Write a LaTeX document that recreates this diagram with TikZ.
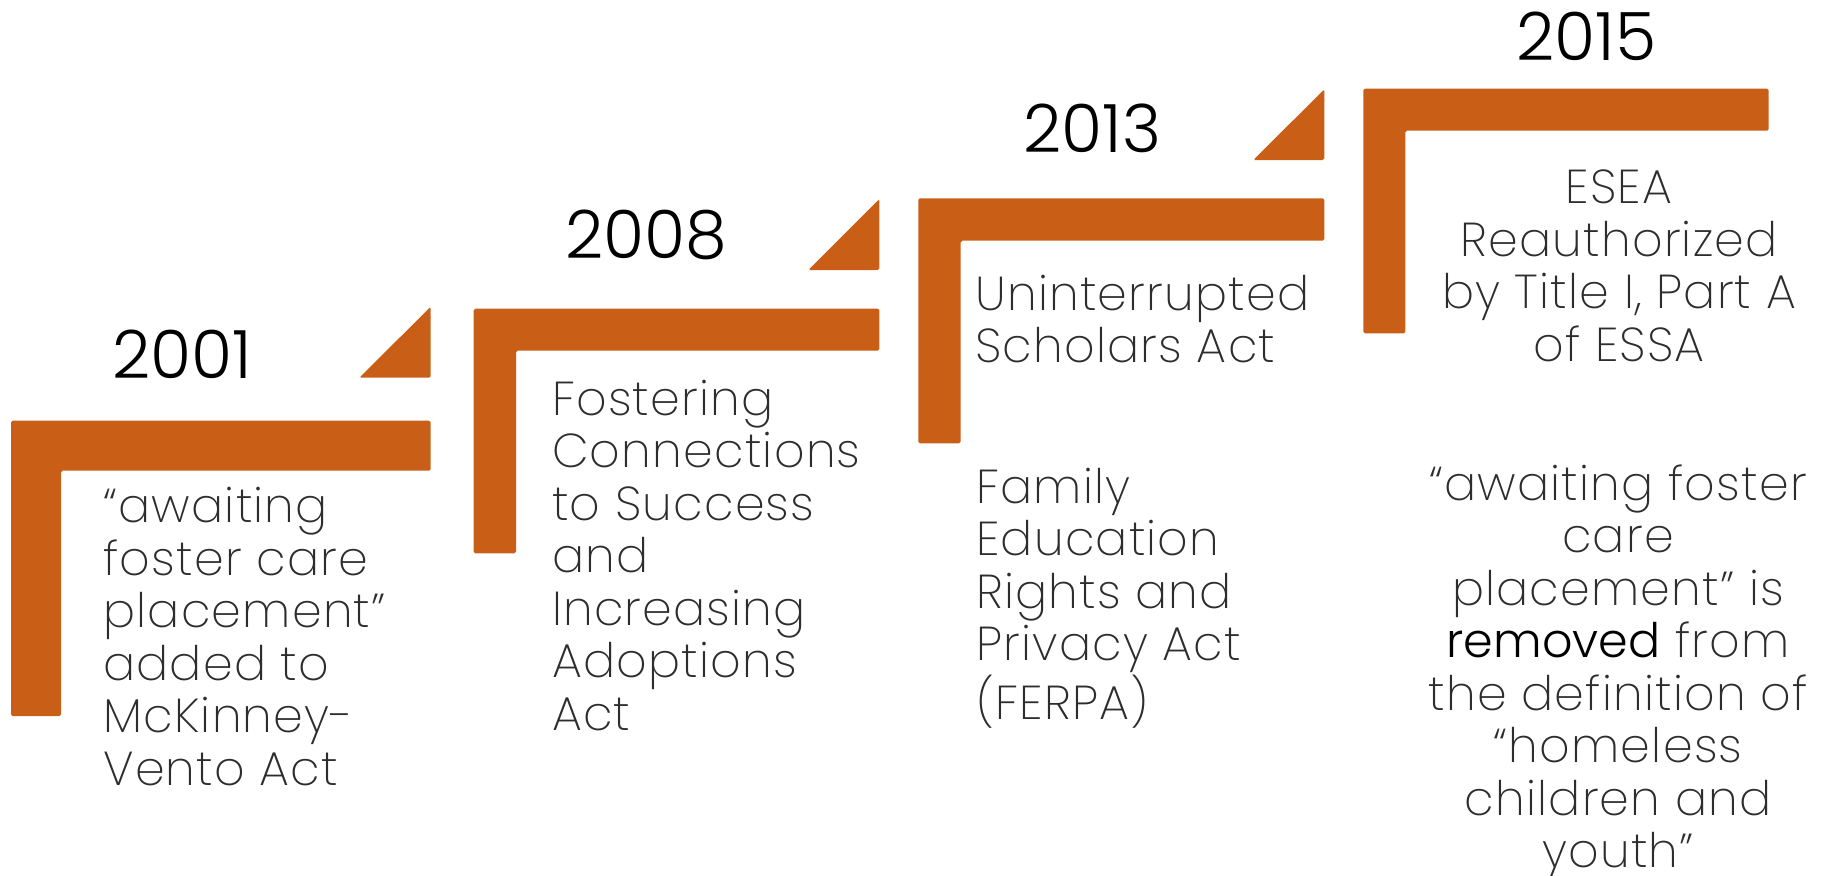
\documentclass[tikz,border=0pt]{standalone}
\usepackage{fontspec}
\usepackage{tikz}
\newfontfamily\thinfont{Poppins ExtraLight}[LetterSpace=2.5]
\newfontfamily\yearfont{Poppins Light}
\definecolor{rust}{RGB}{201,95,23}
\definecolor{thingray}{RGB}{45,45,45}

\begin{document}
\begin{tikzpicture}[x=0.5pt, y=-0.5pt,
    bar/.style={fill=rust, rounded corners=0.8pt},
    year/.style={anchor=base, inner sep=0pt, font=\yearfont\fontsize{33.3}{40}\selectfont},
    desc/.style={anchor=base west, inner sep=0pt, align=left, text=thingray, font=\thinfont\fontsize{23.8}{26.25}\selectfont}]
  \useasboundingbox (0,0) rectangle (1829,875);
  % steps
  \fill[bar] (11,420.7) -- (430.7,420.7) -- (430.7,470.7) -- (61,470.7) -- (61,716) -- (11,716) -- cycle;
  \fill[bar] (359.3,377.7) -- (430.7,306.7) -- (430.7,377.7) -- cycle;
  \fill[bar] (473.7,308.7) -- (879.3,308.7) -- (879.3,350.7) -- (516,350.7) -- (516,553.3) -- (473.7,553.3) -- cycle;
  \fill[bar] (808.3,270) -- (879.3,199) -- (879.3,270) -- cycle;
  \fill[bar] (918.3,198.3) -- (1324.3,198.3) -- (1324.3,240.7) -- (960.7,240.7) -- (960.7,443.3) -- (918.3,443.3) -- cycle;
  \fill[bar] (1253.3,160) -- (1324.3,89.3) -- (1324.3,160) -- cycle;
  \fill[bar] (1363.3,88.7) -- (1768.7,88.7) -- (1768.7,130.7) -- (1405.3,130.7) -- (1405.3,333.3) -- (1363.3,333.3) -- cycle;

  % years
  \node (y2001) [year] at (182,378.3) {2001};
  \node (y2008) [year] at (646.5,258.3) {2008};
  \node (y2013) [year] at (1092.5,152.7) {2013};
  \node (y2015) [year] at (1586.3,60.7) {2015};

  % texts (anchored on their last line)
  \node (t2001) [desc] at (103,785) {“awaiting\\foster care\\placement”\\added to\\McKinney-\\Vento Act};
  \node (t2008) [desc] at (551.7,730) {Fostering\\Connections\\to Success\\and\\Increasing\\Adoptions\\Act};
  \node (t2013a) [desc] at (975,362.7) {Uninterrupted\\Scholars Act};
  \node (t2013b) [desc] at (976,719.3) {Family\\Education\\Rights and\\Privacy Act\\(FERPA)};
  \node (t2015a) [desc, anchor=base, align=center] at (1619,361) {ESEA\\Reauthorized\\by Title I, Part A\\of ESSA};
  \node (t2015b) [desc, anchor=base, align=center] at (1618,867.7) {“awaiting foster\\care\\placement” is\\{\yearfont\color{black}removed} from\\the definition of\\“homeless\\children and\\youth”};
\end{tikzpicture}
\end{document}
